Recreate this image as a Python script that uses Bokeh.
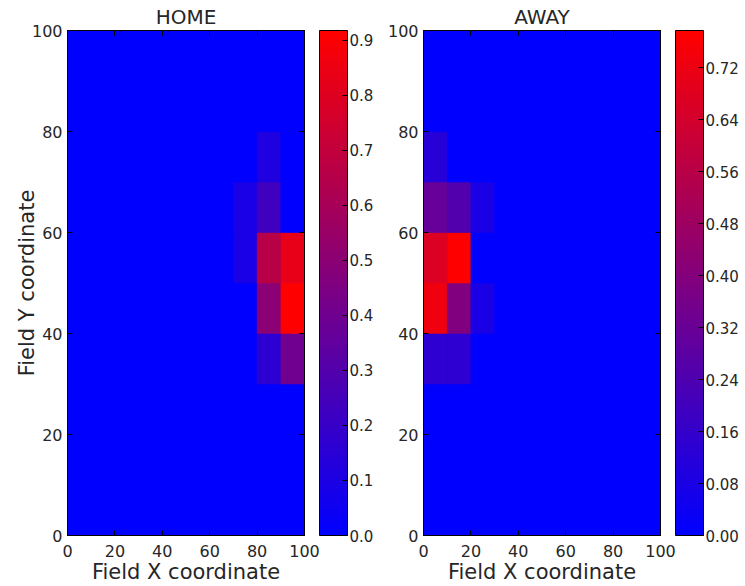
from bokeh.plotting import figure
from bokeh.models import (LinearColorMapper, ColorBar, FixedTicker, PrintfTickFormatter,
                          LinearAxis, ColumnDataSource, Range1d, CustomLabelingPolicy)
from bokeh.layouts import row
from bokeh.embed import file_html
from bokeh.resources import INLINE

# ---------------- data ----------------
x_edges = [0, 10, 20, 30, 40, 50, 60, 70, 80, 90, 100]
y_edges = [0, 10, 20, 30, 40, 50, 60, 70, 80, 90, 100]
axis_ticks = [0, 20, 40, 60, 80, 100]

# rows: y bin 0-10 first (bottom) ... y bin 90-100 last (top); columns: x bins 0-10 ... 90-100
home_values = [
    [0, 0, 0, 0, 0, 0, 0, 0,    0,    0],
    [0, 0, 0, 0, 0, 0, 0, 0,    0,    0],
    [0, 0, 0, 0, 0, 0, 0, 0,    0,    0],
    [0, 0, 0, 0, 0, 0, 0, 0,    0.16, 0.40],
    [0, 0, 0, 0, 0, 0, 0, 0,    0.50, 0.918],
    [0, 0, 0, 0, 0, 0, 0, 0.09, 0.66, 0.83],
    [0, 0, 0, 0, 0, 0, 0, 0.09, 0.23, 0],
    [0, 0, 0, 0, 0, 0, 0, 0,    0.11, 0],
    [0, 0, 0, 0, 0, 0, 0, 0,    0,    0],
    [0, 0, 0, 0, 0, 0, 0, 0,    0,    0],
]
away_values = [
    [0,    0,     0,    0, 0, 0, 0, 0, 0, 0],
    [0,    0,     0,    0, 0, 0, 0, 0, 0, 0],
    [0,    0,     0,    0, 0, 0, 0, 0, 0, 0],
    [0.14, 0.14,  0,    0, 0, 0, 0, 0, 0, 0],
    [0.73, 0.39,  0.08, 0, 0, 0, 0, 0, 0, 0],
    [0.67, 0.777, 0,    0, 0, 0, 0, 0, 0, 0],
    [0.31, 0.25,  0.08, 0, 0, 0, 0, 0, 0, 0],
    [0.12, 0,     0,    0, 0, 0, 0, 0, 0, 0],
    [0,    0,     0,    0, 0, 0, 0, 0, 0, 0],
    [0,    0,     0,    0, 0, 0, 0, 0, 0, 0],
]
home_cb_ticks = [0.0, 0.1, 0.2, 0.3, 0.4, 0.5, 0.6, 0.7, 0.8, 0.9]
away_cb_ticks = [0.00, 0.08, 0.16, 0.24, 0.32, 0.40, 0.48, 0.56, 0.64, 0.72]

# ---------------- style ----------------
FONT = "DejaVu Sans"
TXT = "#262626"
palette = ["#%02x00%02x" % (i, 255 - i) for i in range(256)]

HIDE_LABELS = "for (const i of indices) { indices.unset(i) }\nreturn indices"


def cells(values):
    left, right, bottom, top, v = [], [], [], [], []
    for j, rowv in enumerate(values):
        for i, val in enumerate(rowv):
            left.append(x_edges[i]); right.append(x_edges[i + 1])
            bottom.append(y_edges[j]); top.append(y_edges[j + 1])
            v.append(val)
    return ColumnDataSource(dict(left=left, right=right, bottom=bottom, top=top, v=v))


def style_axis(ax, show_labels=True):
    ax.ticker = FixedTicker(ticks=axis_ticks)
    ax.major_tick_in = 5
    ax.major_tick_out = 0
    ax.minor_tick_line_color = None
    ax.axis_line_color = "black"
    ax.major_tick_line_color = "black"
    ax.major_label_text_font = FONT
    ax.major_label_text_color = TXT
    ax.major_label_text_font_size = "16px"
    ax.major_label_standoff = 5
    if not show_labels:
        ax.major_label_policy = CustomLabelingPolicy(code=HIDE_LABELS)
        ax.major_label_text_font_size = "0px"
        ax.major_label_standoff = 0
    ax.axis_label_text_font = FONT
    ax.axis_label_text_font_style = "normal"
    ax.axis_label_text_font_size = "21px"
    ax.axis_label_text_color = TXT


def panel(title, values, cb_ticks, fmt, ylabel, min_left, min_right):
    vmax = max(max(r) for r in values)
    mapper = LinearColorMapper(palette=palette, low=0, high=vmax)
    p = figure(frame_width=237, frame_height=505, title=title,
               x_range=Range1d(0, 100), y_range=Range1d(0, 100),
               output_backend="svg", toolbar_location=None,
               min_border_left=min_left, min_border_right=min_right,
               min_border_top=0, min_border_bottom=0)
    p.title.align = "center"
    p.title.text_font = FONT
    p.title.text_font_style = "normal"
    p.title.text_font_size = "20px"
    p.title.text_color = TXT
    p.title.standoff = 4
    p.grid.visible = False
    p.outline_line_color = "black"
    p.background_fill_color = "#0000ff"
    p.quad(left="left", right="right", bottom="bottom", top="top", source=cells(values),
           fill_color={"field": "v", "transform": mapper},
           line_color={"field": "v", "transform": mapper}, line_width=0.5)
    style_axis(p.xaxis[0])
    style_axis(p.yaxis[0])
    p.xaxis[0].axis_label = "Field X coordinate"
    p.xaxis[0].major_label_standoff = 9
    p.xaxis[0].axis_label_standoff = 0
    if ylabel:
        p.yaxis[0].axis_label = ylabel
        p.yaxis[0].axis_label_standoff = -10
    top_ax = LinearAxis(); style_axis(top_ax, False)
    right_ax = LinearAxis(); style_axis(right_ax, False)
    p.add_layout(top_ax, "above")
    p.add_layout(right_ax, "right")
    # invisible spacer between the frame and the colour bar
    spacer = LinearAxis(); style_axis(spacer, False)
    spacer.major_tick_in = 0
    spacer.major_tick_out = 15
    spacer.major_tick_line_color = None
    spacer.axis_line_color = None
    p.add_layout(spacer, "right")

    cb = ColorBar(color_mapper=mapper, width=28, margin=0, padding=0,
                  ticker=FixedTicker(ticks=cb_ticks),
                  formatter=PrintfTickFormatter(format=fmt),
                  major_label_text_font=FONT, major_label_text_font_size="15px",
                  major_label_text_color=TXT,
                  major_tick_line_color="black", major_tick_in=5, major_tick_out=0,
                  minor_tick_line_color=None, bar_line_color="black",
                  border_line_color=None, background_fill_color=None,
                  label_standoff=2)
    p.add_layout(cb, "right")
    return p


p1 = panel("HOME", home_values, home_cb_ticks, "%.1f", "Field Y coordinate", 67, 72)
p2 = panel("AWAY", away_values, away_cb_ticks, "%.2f", None, 47, 0)
layout = row(p1, p2, spacing=0)

open("out.html", "w").write(file_html(layout, INLINE))
